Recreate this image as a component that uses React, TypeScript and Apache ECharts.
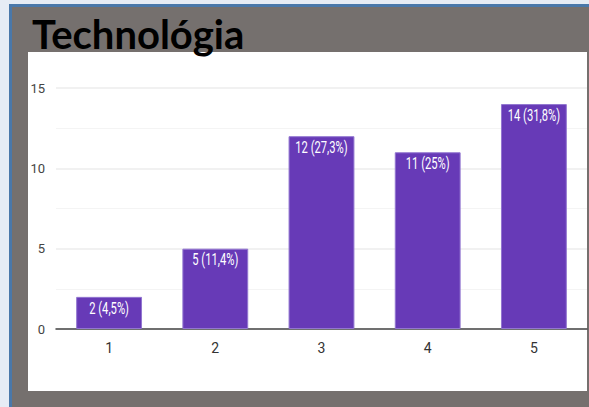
import React, { useEffect, useRef } from "react";
import * as echarts from "echarts";

const categories = ["1", "2", "3", "4", "5"];
const counts = [2, 5, 12, 11, 14];
const percents = ["4,5%", "11,4%", "27,3%", "25%", "31,8%"];
const yTicks = [0, 5, 10, 15];
const titleText = "Technológia";

const AXIS_FONT = "Roboto, 'Liberation Sans', sans-serif";

export default function App() {
  const ref = useRef<HTMLDivElement>(null);
  useEffect(() => {
    if (!ref.current) return;
    const chart = echarts.init(ref.current, null, { renderer: "svg" });
    chart.setOption({
      animation: false,
      backgroundColor: "#e6ecf5",
      graphic: [
        { type: "rect", z: -20, shape: { x: 9, y: 4, width: 580, height: 403 }, style: { fill: "#4a78aa" } },
        { type: "rect", z: -19, shape: { x: 12, y: 7, width: 577, height: 400 }, style: { fill: "#75706e" } },
        { type: "rect", z: -18, shape: { x: 28, y: 52, width: 559, height: 339 }, style: { fill: "#ffffff" } },
        {
          type: "text",
          z: 10,
          x: 32,
          y: 34,
          style: {
            text: titleText,
            fill: "#000000",
            font: "bold 40px Lato, 'Open Sans', sans-serif",
            verticalAlign: "middle",
            align: "left",
          },
        },
      ],
      grid: { left: 56, right: 2, top: 88, bottom: 78 },
      xAxis: {
        type: "category",
        data: categories,
        axisLine: { lineStyle: { color: "#444444", width: 1.5 } },
        axisTick: { show: false },
        axisLabel: { color: "#333333", fontSize: 14, fontFamily: AXIS_FONT, margin: 12 },
      },
      yAxis: {
        type: "value",
        min: yTicks[0],
        max: yTicks[yTicks.length - 1],
        interval: 5,
        axisLine: { show: false },
        axisTick: { show: false },
        axisLabel: { color: "#444444", fontSize: 13, fontFamily: AXIS_FONT, margin: 11 },
        splitLine: { lineStyle: { color: "#ececec", width: 1.5 } },
        minorTick: { show: false, splitNumber: 2 },
        minorSplitLine: { show: true, lineStyle: { color: "#f4f4f4", width: 1 } },
      },
      series: [
        {
          type: "bar",
          data: counts,
          barCategoryGap: "38%",
          itemStyle: { color: "#673ab7", borderColor: "#9276d0", borderWidth: 1 },
        },
        {
          type: "custom",
          z: 5,
          encode: { x: 0, y: 1 },
          data: counts.map((v, i) => [i, v]),
          renderItem: (params: any, api: any) => {
            const i = api.value(0);
            const pt = api.coord([i, api.value(1)]);
            return {
              type: "text",
              x: pt[0],
              y: pt[1] + 11,
              scaleX: 0.7,
              style: {
                text: `${counts[i]} (${percents[i]})`,
                fill: "#ffffff",
                font: "16px Roboto, sans-serif",
                align: "center",
                verticalAlign: "middle",
              },
            };
          },
        },
      ],
    });
    return () => chart.dispose();
  }, []);
  return (
    <div
      ref={ref}
      style={{ position: "fixed", left: 0, top: 0, width: 589, height: 407 }}
    />
  );
}
